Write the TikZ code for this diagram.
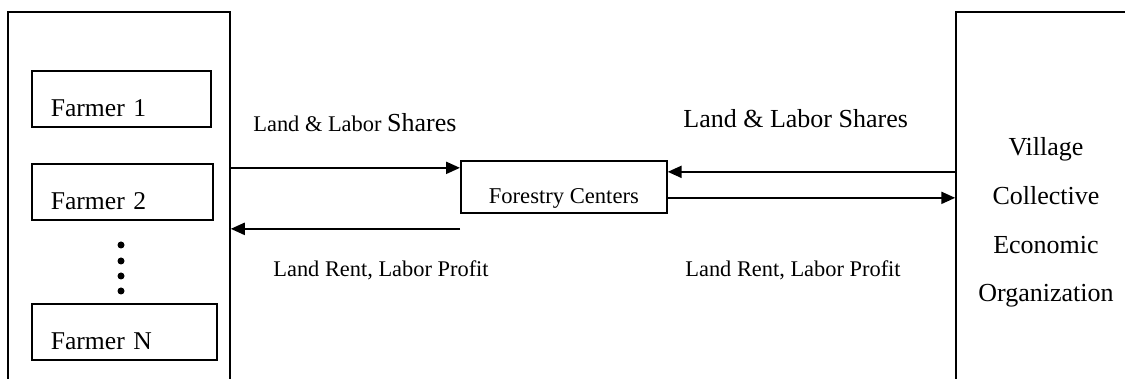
\documentclass[tikz,border=0pt]{standalone}
\usepackage{fontspec}
\setmainfont{Liberation Serif}
\usetikzlibrary{arrows.meta}

\begin{document}
\begin{tikzpicture}[x=0.5pt,y=-0.5pt,
  bigbox/.style={draw,rectangle,line width=0.75pt,minimum width=#1,minimum height=207.5pt},
  farmer/.style={draw,rectangle,line width=0.85pt,anchor=north west,inner xsep=9.5pt,inner ysep=0pt,text width=#1,align=left,text height=22.75pt,text depth=5.25pt,font=\fontsize{12.8}{15}\selectfont},
  flow/.style={-{Triangle[length=7pt,width=6pt]},line width=1.1pt},
  lbl/.style={anchor=base west,inner sep=0pt,font=\fontsize{11.2}{13}\selectfont}]
\useasboundingbox (0,0) rectangle (1125,379);
\clip (0,0) rectangle (1125,379);
% left side: the farmers
\node[bigbox=111pt] (farmers) at (119,219.5) {};
\node[farmer=70.5pt] (f1) at (31,70) {Farmer 1};
\node[farmer=71.5pt] (f2) at (31,163) {Farmer 2};
\node[farmer=73.5pt] (fn) at (31,303) {Farmer N};
\foreach \y in {245,261,276,291}
  \fill (121,\y) circle (1.75pt);
% middle and right side
\node[draw,rectangle,line width=0.85pt,anchor=north west,minimum width=103pt,inner ysep=0pt,text height=21.25pt,text depth=4.75pt,font=\fontsize{11.3}{13}\selectfont] (forestry) at (460,160) {Forestry Centers};
\node[bigbox=90pt,minimum height=210.5pt,align=center,font=\fontsize{13}{24.3}\selectfont] (village) at (1046,222.5) {Village\\Collective\\Economic\\Organization};
% flows
\coordinate (a1) at ([yshift=9.5pt]forestry.west);
\coordinate (a2) at ([yshift=-21pt]forestry.west);
\coordinate (a3) at ([yshift=7.5pt]forestry.east);
\coordinate (a4) at ([yshift=-5.5pt]forestry.east);
\draw[flow] (farmers.east |- a1) -- (a1);
\draw[flow] (a2) -- (farmers.east |- a2);
\draw[flow] (village.west |- a3) -- (a3);
\draw[flow] (a4) -- (village.west |- a4);
\node[lbl] (s1) at (253,132) {Land \& Labor {\fontsize{13}{15}\selectfont Shares}};
\node[lbl,font=\fontsize{13}{15}\selectfont] (s2) at (683,128) {Land \& Labor Shares};
\node[lbl] (p1) at (273,277) {Land Rent, Labor Profit};
\node[lbl] (p2) at (685,277) {Land Rent, Labor Profit};
\end{tikzpicture}
\end{document}
